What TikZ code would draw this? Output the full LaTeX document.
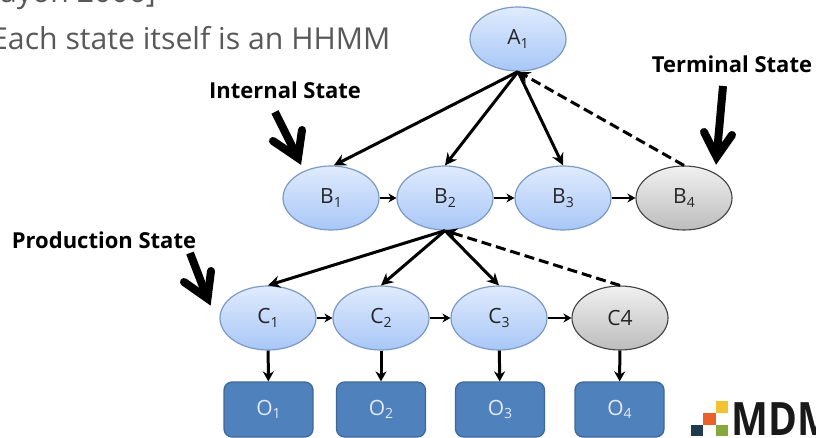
\documentclass[tikz,border=0pt]{standalone}
\usepackage{fontspec}
\setmainfont{Open Sans}
\usetikzlibrary{arrows.meta,shapes.geometric}
\definecolor{txtgray}{HTML}{595959}
\definecolor{boxblue}{HTML}{4F81BD}
\definecolor{boxedge}{HTML}{3F6797}
\definecolor{elledge}{HTML}{7B9AC4}
\definecolor{elltop}{HTML}{E0EBFD}
\definecolor{ellbot}{HTML}{A8C7F7}
\definecolor{grytop}{HTML}{F0F0F0}
\definecolor{grybot}{HTML}{BDBDBD}
\definecolor{boxtext}{HTML}{E3EAF5}
\definecolor{logodark}{HTML}{1F3B4D}
\definecolor{logoorange}{HTML}{E8622A}
\definecolor{logoyellow}{HTML}{F2C230}
\definecolor{logogreen}{HTML}{86A83C}
\newcommand\sbs[1]{\raisebox{-3.5pt}{\fontsize{14}{14}\selectfont #1}}
\begin{document}
\begin{tikzpicture}[x=1pt,y=-1pt,
  bstate/.style={ellipse,draw=elledge,line width=1.2pt,minimum width=96pt,minimum height=64pt,inner sep=0pt,top color=elltop,bottom color=ellbot,font=\fontsize{21}{23}\selectfont,text=black!85},
  gstate/.style={ellipse,draw=black!75,line width=1.1pt,minimum width=96pt,minimum height=64pt,inner sep=0pt,top color=grytop,bottom color=grybot,font=\fontsize{21}{23}\selectfont,text=black!85},
  obox/.style={draw=boxedge,line width=1.2pt,fill=boxblue,rounded corners=8pt,minimum width=89pt,minimum height=55pt,inner sep=0pt,font=\fontsize{21}{23}\selectfont,text=boxtext},
  link/.style={draw=black,line width=3pt,-{Stealth[length=12pt,width=12pt]}},
  hop/.style={draw=black,line width=2.2pt,-{Stealth[length=8pt,width=9pt]}},
  drop/.style={draw=black,line width=3pt,-{Stealth[length=10pt,width=11pt]}},
  back/.style={draw=black,line width=3pt,dash pattern=on 10pt off 5pt,-{Stealth[length=12pt,width=12pt]}},
  fat/.style={draw=black,line width=8pt},
  fathead/.style={draw=black,line width=8pt,line join=miter,miter limit=10,line cap=round},
  lab/.style={font=\bfseries\fontsize{22}{24}\selectfont,text=black,inner sep=0pt},
  body/.style={font=\fontsize{30.2}{34}\selectfont,text=txtgray,inner sep=0pt,anchor=base west}]
\useasboundingbox (0,0) rectangle (816,438);
\clip (0,0) rectangle (816,438);
\node[body] (t1) at (0,3) {ayon 2006]};
\node[body] (t2) at (-9,50) {Each state itself is an HHMM};
\node[bstate] (A1) at (518,39) {A\sbs{1}};
\node[bstate] (B1) at (331,198) {B\sbs{1}};
\node[bstate] (B2) at (445,198) {B\sbs{2}};
\node[bstate] (B3) at (563,198) {B\sbs{3}};
\node[gstate] (B4) at (684,198) {B\sbs{4}};
\node[bstate] (C1) at (268,318) {C\sbs{1}};
\node[bstate] (C2) at (381,318) {C\sbs{2}};
\node[bstate] (C3) at (499,318) {C\sbs{3}};
\node[gstate] (C4) at (620,318) {C4};
\node[obox] (O1) at (268.5,409.5) {O\sbs{1}};
\node[obox] (O2) at (381,409.5) {O\sbs{2}};
\node[obox] (O3) at (500,409.5) {O\sbs{3}};
\node[obox] (O4) at (619.5,409.5) {O\sbs{4}};
\node[lab] (il) at (285,90) {Internal State};
\node[lab] (tl) at (732,64) {Terminal State};
\node[lab] (pl) at (104,240) {Production State};
\draw[link] (A1.south) -- (B1.85);
\draw[link] (A1.south) -- (B2.north);
\draw[link] (A1.south) -- (B3.north);
\draw[back] (B4.north) -- (A1.south);
\draw[link] (B2.south) -- (C1.north);
\draw[link] (B2.south) -- (C2.north);
\draw[link] (B2.south) -- (C3.north);
\draw[back] (C4.north) -- (B2.south);
\draw[hop] (B1) -- (B2);
\draw[hop] (B2) -- (B3);
\draw[hop] (B3) -- (B4);
\draw[hop] (C1) -- (C2);
\draw[hop] (C2) -- (C3);
\draw[hop] (C3) -- (C4);
\draw[drop] (C1) -- (O1);
\draw[drop] (C2) -- (O2);
\draw[drop] (C3) -- (O3);
\draw[drop] (C4) -- (O4);
% thick pointer arrows
\coordinate (f1s) at (275,112);
\coordinate (f1v) at (298,158);
\coordinate (f1a) at (273,141);
\coordinate (f1b) at (302,130);
\coordinate (f2s) at (723,86);
\coordinate (f2v) at (716.6,157);
\coordinate (f2a) at (704,132);
\coordinate (f2b) at (732,135);
\coordinate (f3s) at (190,253);
\coordinate (f3v) at (207.5,298.5);
\coordinate (f3a) at (184,282);
\coordinate (f3b) at (211,271);
\draw[fat] (f1s) -- (f1v);
\draw[fathead] (f1a) -- (f1v) -- (f1b);
\draw[fat] (f2s) -- (f2v);
\draw[fathead] (f2a) -- (f2v) -- (f2b);
\draw[fat] (f3s) -- (f3v);
\draw[fathead] (f3a) -- (f3v) -- (f3b);
% logo
\fill[logodark] (691,425) rectangle (703,436);
\fill[logoorange] (703,413) rectangle (716,424.5);
\fill[logoyellow] (716,401) rectangle (728,413);
\fill[logogreen] (716,425) rectangle (728,436);
\node[font=\fontsize{46}{48}\selectfont\bfseries,text=black!90,inner sep=0,anchor=base west] (logo) at (731,435) {\scalebox{.85}[1]{MDM}};
\end{tikzpicture}
\end{document}
